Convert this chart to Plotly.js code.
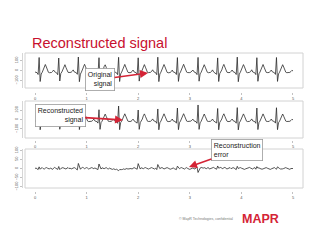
<!DOCTYPE html>
<html><head><meta charset="utf-8">
<script src="https://cdn.plot.ly/plotly-3.0.1.min.js"></script>
<style>html,body{margin:0;padding:0;background:#fff}#c{width:320px;height:247px}</style>
</head><body><div id="c"></div>
<script>
// time grid: sample step and count
const tStart = 0, tStep = 0.02;
const xTicks = [0, 1, 2, 3, 4, 5];
const xTicksMiddle = [0, 1, 2, 3, 5]; // "4" is hidden under the error callout
const yTicksSignal = [-100, 0, 100];
const yTicksError = [-100, -50, 0, 50, 100];

const original = [
 -15,-20,-22,-40,130,-110,-35,-18,5,40,60,35,0,-18,-22,-22,-20,-10,5,
 -12,-20,-24,-42,125,-105,-30,-15,8,42,58,30,-2,-18,-20,-22,-18,-8,6,
 -14,-20,-22,-38,135,-112,-36,-16,6,38,62,38,2,-16,-22,-24,-22,-18,-8,4,
 -15,-22,-24,-40,128,-108,-32,-17,4,40,57,32,0,-18,-21,-22,-19,-9,6,
 -13,-20,-23,-41,132,-110,-34,-16,7,43,61,34,-1,-17,-22,-23,-20,-10,5,
 -14,-21,-22,-39,127,-106,-33,-18,5,39,59,33,1,-19,-21,-22,-18,-9,7,
 -12,-20,-23,-42,133,-111,-35,-17,6,41,60,36,0,-18,-23,-22,-20,-11,4,
 -15,-21,-22,-40,129,-109,-33,-15,7,40,62,35,2,-17,-21,-23,-21,-17,-7,5,
 -13,-20,-24,-41,131,-107,-34,-18,5,42,58,33,-1,-18,-22,-22,-19,-10,6,
 -14,-22,-23,-38,126,-110,-32,-16,6,39,61,34,1,-17,-21,-23,-20,-9,5,
 -12,-20,-22,-40,134,-112,-36,-17,4,41,59,36,0,-19,-22,-22,-18,-10,7,
 -15,-21,-23,-41,128,-108,-33,-16,7,40,60,33,-2,-18,-21,-22,-20,-8,5,
 -13,-20,-22,-39,130,-109,-34,-17,5,41,58,35,0,-17,-22,-23,-21,-19,-10,2,-5
];
const reconstructed = [
 -15,-21,-21,-38,125,-108,-35,-19,6,41,60,34,1,-18,-21,-22,-20,-11,4,
 -13,-20,-23,-40,119,-103,-31,-16,7,41,58,31,-1,-17,-21,-22,-18,-9,5,
 -14,-21,-22,-37,107,-106,-34,-17,6,39,61,37,2,-17,-22,-23,-22,-18,-9,4,
 -15,-21,-23,-38,103,-104,-33,-18,5,39,57,33,1,-18,-21,-22,-19,-9,5,
 -14,-20,-22,-40,142,-107,-33,-17,6,42,60,35,0,-17,-21,-23,-20,-10,4,
 -14,-21,-22,-38,100,-104,-33,-18,5,40,59,33,0,-18,-21,-22,-19,-10,6,
 -13,-20,-22,-40,111,-108,-34,-17,6,40,60,35,1,-18,-22,-22,-20,-11,5,
 -15,-21,-22,-39,121,-107,-34,-16,6,40,61,35,2,-17,-21,-22,-21,-17,-8,4,
 -14,-21,-23,-40,153,-104,-35,-19,4,41,58,33,0,-18,-21,-22,-19,-11,5,
 -14,-21,-23,-37,116,-108,-32,-17,5,39,60,34,0,-17,-22,-22,-20,-10,5,
 -13,-20,-22,-39,125,-109,-35,-17,5,40,59,35,1,-18,-22,-22,-19,-10,6,
 -15,-21,-22,-40,121,-106,-33,-17,6,40,59,34,-1,-18,-21,-22,-20,-9,5,
 -14,-20,-22,-38,124,-107,-34,-17,5,40,58,34,0,-17,-21,-22,-21,-19,-10,2,-4
];
const reconError = [
 0,3,-2,-6,9,-4,2,5,-1,-3,2,5,2,-1,-3,3,0,-5,2,6,
 2,-1,-5,11,-6,0,3,5,2,-1,-3,2,5,-1,3,-3,0,3,5,2,
 -1,-8,28,10,-4,3,6,4,-1,2,5,2,-3,0,3,5,2,-1,3,0,
 -3,-6,25,7,-3,4,2,-1,2,5,0,-3,2,-1,-3,-5,-2,-5,-6,-4,
 -7,-12,-6,-4,-6,-5,-2,-5,-3,0,-3,-1,2,0,-3,2,5,2,-1,-4,
 27,9,-3,4,2,-1,3,5,2,-1,-3,0,3,5,2,-1,-3,2,-6,22,
 7,-1,3,5,2,-3,0,3,5,2,-1,-4,-2,0,3,-1,-3,-6,13,4,
 -1,3,5,2,-1,-3,2,5,0,-3,-5,-2,0,3,-1,-3,4,7,-22,-7,
 2,6,4,2,5,2,-1,3,5,-3,0,2,5,6,2,-1,-4,14,2,4,
 6,2,-1,4,6,2,-3,0,3,5,-1,2,5,2,-3,-6,12,0,3,5,
 2,-1,-3,-5,-2,0,3,5,6,2,-1,-3,2,5,-4,11,2,4,0,-3,
 -4,-2,0,3,5,2,-1,-3,-5,-2,0,3,5,0,-4,9,2,0,-3,-4,
 -2,0,3,5,2,-1,-3,-5,0,2,0
];

const timeOf = arr => arr.map((_, i) => +(tStart + i * tStep).toFixed(4));

const W = 320, H = 247;
const px = v => v / W, py = v => 1 - v / H;
const lineStyle = {color: '#2b2b2b', width: 0.8};

const traces = [
  {x: timeOf(original), y: original, xaxis: 'x', yaxis: 'y', type: 'scatter', mode: 'lines', line: lineStyle, hoverinfo: 'skip'},
  {x: timeOf(reconstructed), y: reconstructed, xaxis: 'x2', yaxis: 'y2', type: 'scatter', mode: 'lines', line: lineStyle, hoverinfo: 'skip'},
  {x: timeOf(reconError), y: reconError, xaxis: 'x3', yaxis: 'y3', type: 'scatter', mode: 'lines', line: lineStyle, hoverinfo: 'skip'}
];

const tickFont = {size: 4, color: '#555', family: 'Liberation Sans, Arial, sans-serif'};
function xAx(pos, vals) {
  return {domain: [px(25), px(303)], range: [-0.194, 5.194], anchor: 'free', position: pos,
    tickvals: vals, ticks: 'outside', ticklen: 2, tickwidth: 0.6, tickcolor: '#999',
    showline: false, showgrid: false, zeroline: false, tickfont: tickFont, fixedrange: true};
}
function yAx(dom, rng, vals) {
  return {domain: dom, range: rng, anchor: 'free', position: px(22),
    tickvals: vals, ticks: 'outside', ticklen: 2, tickwidth: 0.6, tickcolor: '#999',
    showline: true, linecolor: '#bbb', linewidth: 0.6,
    showgrid: false, zeroline: false, tickangle: -90, tickfont: tickFont, fixedrange: true};
}

const boxLine = {color: '#d2d2d2', width: 1};
const shapes = ['', '2', '3'].map(s => ({type: 'rect', xref: 'x' + s + ' domain', yref: 'y' + s + ' domain',
  x0: 0, x1: 1, y0: 0, y1: 1, line: boxLine, fillcolor: 'rgba(0,0,0,0)'}));

const annFont = {size: 7, color: '#222', family: 'Liberation Sans, Arial, sans-serif'};
const arrowRed = '#d42436';
const annotations = [
  {xref: 'paper', yref: 'paper', x: px(148), y: py(73), ax: -48, ay: 6.5, text: 'Original<br>signal', align: 'right',
   showarrow: true, arrowhead: 2, arrowsize: 1, arrowwidth: 1.6, arrowcolor: arrowRed, standoff: 0,
   bordercolor: '#9a9a9a', borderwidth: 0.8, borderpad: 2, bgcolor: '#fff', font: annFont},
  {xref: 'paper', yref: 'paper', x: px(123), y: py(120), ax: -63, ay: -4, text: 'Reconstructed<br>signal', align: 'right',
   showarrow: true, arrowhead: 2, arrowsize: 1, arrowwidth: 1.6, arrowcolor: arrowRed, standoff: 0,
   bordercolor: '#9a9a9a', borderwidth: 0.8, borderpad: 2, bgcolor: '#fff', font: annFont},
  {xref: 'paper', yref: 'paper', x: px(189), y: py(167), ax: 48, ay: -17, text: 'Reconstruction<br>error', align: 'left',
   showarrow: true, arrowhead: 2, arrowsize: 1, arrowwidth: 1.6, arrowcolor: arrowRed, standoff: 0,
   bordercolor: '#9a9a9a', borderwidth: 0.8, borderpad: 2, bgcolor: '#fff', font: annFont},
  {xref: 'paper', yref: 'paper', x: px(235), y: py(219), xanchor: 'right', yanchor: 'middle', showarrow: false,
   text: '© MapR Technologies, confidential', font: {size: 3.5, color: '#777', family: 'Liberation Sans, Arial, sans-serif'}},
  {xref: 'paper', yref: 'paper', x: px(240), y: py(219), xanchor: 'left', yanchor: 'middle', showarrow: false,
   text: '<b>MAPR</b>', font: {size: 12.5, color: '#d42436', family: 'Liberation Sans, Arial, sans-serif'}}
];

const layout = {
  width: W, height: H, margin: {l: 0, r: 0, t: 0, b: 0},
  paper_bgcolor: '#fff', plot_bgcolor: 'rgba(0,0,0,0)', showlegend: false,
  title: {text: 'Reconstructed signal', x: px(32), xref: 'paper', xanchor: 'left', y: py(43), yref: 'paper', yanchor: 'middle',
    font: {size: 14.5, color: '#c8102e', family: 'Liberation Sans, Arial, sans-serif'}},
  xaxis: xAx(py(92), xTicks), xaxis2: xAx(py(140), xTicksMiddle), xaxis3: xAx(py(191), xTicks),
  yaxis: yAx([py(88), py(53)], [-175, 175], yTicksSignal),
  yaxis2: yAx([py(138), py(101)], [-195, 195], yTicksSignal),
  yaxis3: yAx([py(188), py(149)], [-108, 108], yTicksError),
  shapes: shapes, annotations: annotations
};

Plotly.newPlot('c', traces, layout, {staticPlot: true, displayModeBar: false});
</script></body></html>
